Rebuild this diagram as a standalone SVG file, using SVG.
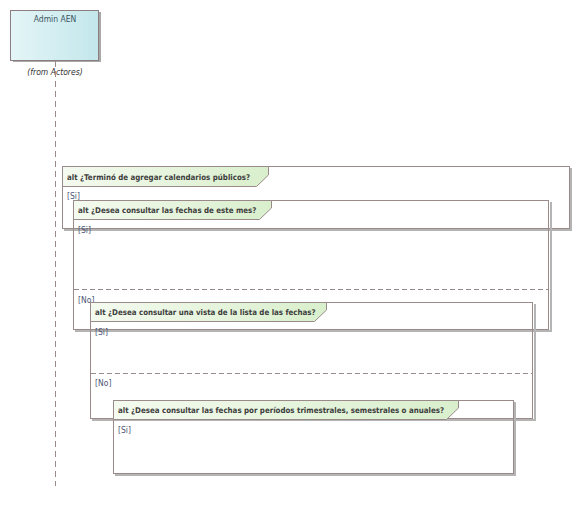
<svg xmlns="http://www.w3.org/2000/svg" width="579" height="516" viewBox="0 0 579 516">
<defs>
<linearGradient id="gHead" x1="0" y1="0" x2="1" y2="0">
<stop offset="0" stop-color="#e4f5f7"/>
<stop offset="1" stop-color="#c3e7eb"/>
</linearGradient>
<linearGradient id="gLab" x1="0" y1="0" x2="1" y2="0">
<stop offset="0" stop-color="#f4faef"/>
<stop offset="1" stop-color="#d9efcc"/>
</linearGradient>
</defs>
<style>
.frame{fill:none;stroke:#9a8a8a;stroke-width:1}
.shadow{fill:none;stroke:#b4b4b4;stroke-width:2}
.lab{fill:url(#gLab);stroke:#9a8a8a;stroke-width:1}
.dash{stroke:#9a8a8a;stroke-width:1;stroke-dasharray:5,3;fill:none}
.t{font-family:"DejaVu Sans Condensed","Liberation Sans",sans-serif;font-size:8.5px;fill:#333}
.b{font-family:"DejaVu Sans Condensed","Liberation Sans",sans-serif;font-size:7.85px;font-weight:bold;fill:#3d3d3d}
.g{font-family:"DejaVu Sans Condensed","Liberation Sans",sans-serif;font-size:8.5px;fill:#4a5475}
</style>
<g id="lifeline-admin">
<rect x="13" y="12" width="88" height="50" fill="#a8a8a8"/>
<rect x="10.5" y="10.5" width="88" height="50" fill="url(#gHead)" stroke="#8c7e7e"/>
<text x="55" y="22" text-anchor="middle" class="t" style="fill:#3b5562">Admin AEN</text>
<text x="55" y="75" text-anchor="middle" class="t" style="font-style:italic">(from Actores)</text>
<line x1="55.5" y1="61" x2="55.5" y2="486" stroke="#9a8a8a" stroke-dasharray="6,4"/>
</g>
<g id="connectors"></g>
<g id="frame1">
<path class="shadow" d="M571,168 V230 H64"/>
<rect class="frame" x="62.5" y="166.5" width="507" height="62"/>
<polygon class="lab" points="62.5,166.5 268.5,166.5 268.5,175 256.5,186.5 62.5,186.5"/>
<text class="b" x="67" y="179.5">alt ¿Terminó de agregar calendarios públicos?</text>
<text class="g" x="67" y="199">[Si]</text>
</g>
<g id="frame2">
<path class="shadow" d="M551,202 V331 H75"/>
<rect class="frame" x="73.5" y="200.5" width="475" height="129"/>
<polygon class="lab" points="73.5,200.5 271.5,200.5 271.5,208 259.5,219.5 73.5,219.5"/>
<text class="b" x="78" y="213">alt ¿Desea consultar las fechas de este mes?</text>
<text class="g" x="78" y="233">[Si]</text>
<line class="dash" x1="74" y1="289.5" x2="548" y2="289.5"/>
<text class="g" x="78" y="303">[No]</text>
</g>
<g id="frame3">
<path class="shadow" d="M535,304 V420 H92"/>
<rect class="frame" x="90.5" y="302.5" width="442" height="116"/>
<polygon class="lab" points="90.5,302.5 326.5,302.5 326.5,310 314.5,321.5 90.5,321.5"/>
<text class="b" x="95" y="315">alt ¿Desea consultar una vista de la lista de las fechas?</text>
<text class="g" x="95" y="335">[Si]</text>
<line class="dash" x1="91" y1="373.5" x2="532" y2="373.5"/>
<text class="g" x="95" y="386">[No]</text>
</g>
<g id="frame4">
<path class="shadow" d="M515,402 V475 H115"/>
<rect class="frame" x="113.5" y="400.5" width="400" height="73"/>
<polygon class="lab" points="113.5,400.5 458.5,400.5 458.5,408 446.5,419.5 113.5,419.5"/>
<text class="b" x="118" y="412.5">alt ¿Desea consultar las fechas por períodos trimestrales, semestrales o anuales?</text>
<text class="g" x="118" y="433">[Si]</text>
</g>
</svg>
